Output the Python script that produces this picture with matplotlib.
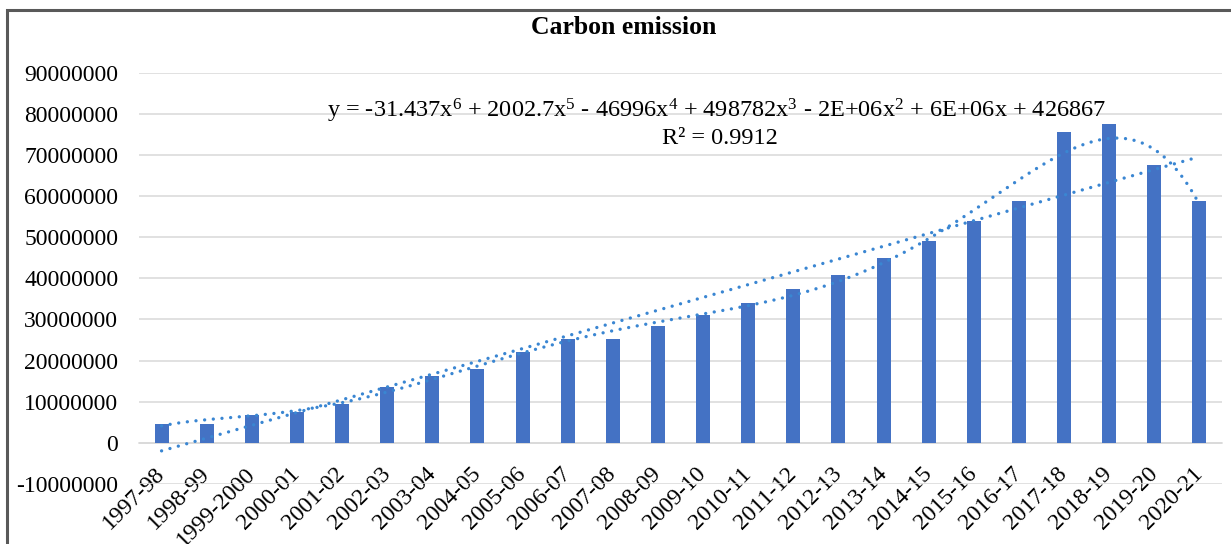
import numpy as np
import matplotlib
matplotlib.use("Agg")
import matplotlib.pyplot as plt
from matplotlib.patches import Rectangle

categories = ["1997-98", "1998-99", "1999-2000", "2000-01", "2001-02", "2002-03",
              "2003-04", "2004-05", "2005-06", "2006-07", "2007-08", "2008-09",
              "2009-10", "2010-11", "2011-12", "2012-13", "2013-14", "2014-15",
              "2015-16", "2016-17", "2017-18", "2018-19", "2019-20", "2020-21"]
emission = [4.7e6, 4.7e6, 6.7e6, 7.5e6, 9.5e6, 13.7e6,
            16.3e6, 17.9e6, 22.2e6, 25.2e6, 25.2e6, 28.4e6,
            31.1e6, 34.1e6, 37.3e6, 40.8e6, 45.0e6, 49.2e6,
            53.9e6, 58.8e6, 75.6e6, 77.5e6, 67.5e6, 58.7e6]
ytick_values = [-10000000, 0, 10000000, 20000000, 30000000, 40000000,
                50000000, 60000000, 70000000, 80000000, 90000000]
equation_text = ("y = -31.437x$^{6}$ + 2002.7x$^{5}$ - 46996x$^{4}$ + "
                 "498782x$^{3}$ - 2E+06x$^{2}$ + 6E+06x + 426867")
r2_text = "R² = 0.9912"
title = "Carbon emission"

plt.rcParams['font.family'] = ['Liberation Serif', 'DejaVu Serif']
plt.rcParams['mathtext.fontset'] = 'custom'
plt.rcParams['mathtext.rm'] = 'Liberation Serif'
plt.rcParams['mathtext.it'] = 'Liberation Serif'

W, H = 1231, 544
fig = plt.figure(figsize=(W / 100, H / 100), dpi=100)
ax = fig.add_axes([139 / W, 1 - 484 / H, (1222 - 139) / W, (484 - 72.7) / H])

for s in ['left', 'right', 'top']:
    ax.spines[s].set_visible(False)
ax.spines['bottom'].set_position(('data', 0))
ax.spines['bottom'].set_color('#D9D9D9')
ax.spines['bottom'].set_linewidth(1.1)

x = np.arange(len(categories))
bar_color = '#4472C4'
trend_color = '#3A86D2'
ax.bar(x, emission, width=0.31, color=bar_color, zorder=3)

# trendlines (Excel style, x = 1..n)
xf = x + 1.0
lin = np.polyfit(xf, emission, 1)
poly = np.polyfit(xf, emission, 6)
xs = np.linspace(xf[0], xf[-1], 600)
dot_style = dict(color=trend_color, lw=2.4, linestyle=(0, (0.01, 2.6)),
                 dash_capstyle='round', zorder=4)
ax.plot(xs - 1, np.polyval(lin, xs), **dot_style)
ax.plot(xs - 1, np.polyval(poly, xs), **dot_style)

ax.set_xlim(-0.5, len(categories) - 0.5)
ax.set_ylim(-10000000, 90000000)
ax.set_yticks(ytick_values)
ax.set_yticklabels([str(v) for v in ytick_values], fontsize=17)
ax.yaxis.grid(True, color='#D9D9D9', lw=1.1, zorder=0)
ax.set_axisbelow(True)

ax.set_xticks(x)
ax.set_xticklabels(categories, fontsize=17, rotation=45, ha='right', va='center',
                   rotation_mode='anchor')
ax.tick_params(axis='x', length=0, pad=20)
ax.tick_params(axis='y', length=0, pad=15)

ax.text(12.29, 80.6e6, equation_text, fontsize=17.5, ha='center', va='center', zorder=5)
ax.text(12.38, 73.9e6, r2_text, fontsize=17.5, ha='center', va='center', zorder=5)

fig.text(624 / W, 1 - 27 / H, title, fontsize=18.5, fontweight='bold',
         ha='center', va='center')

fig.patches.append(Rectangle((7 / W, -0.2), 1.5, 0.2 + 1 - 10 / H,
                             transform=fig.transFigure, fill=False,
                             edgecolor='#595959', lw=2.2))

fig.savefig('out.png', dpi=100, facecolor='white')
